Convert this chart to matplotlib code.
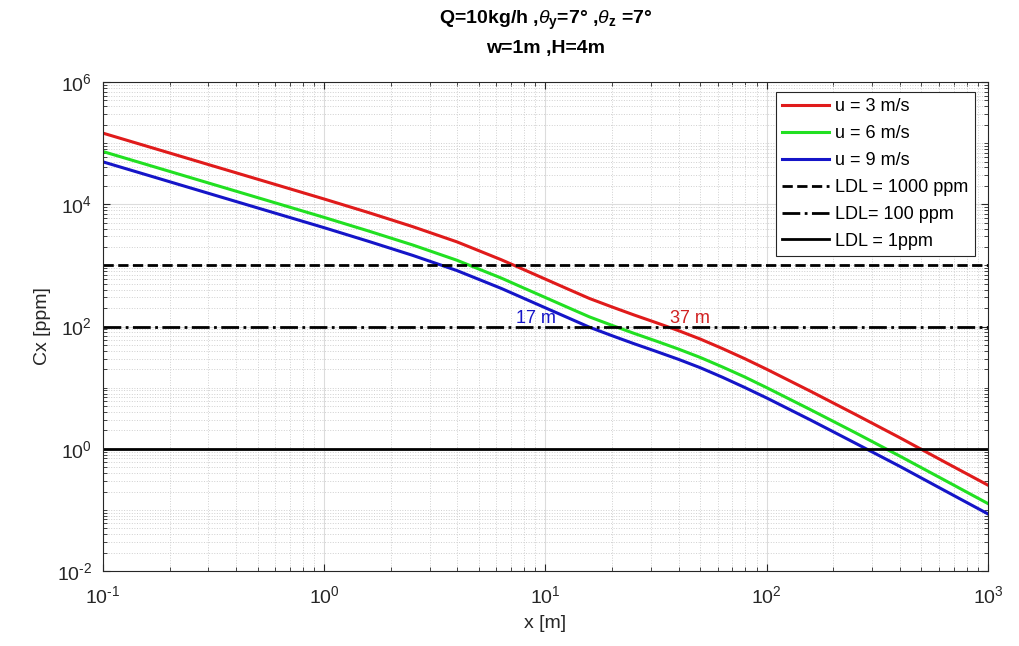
import numpy as np
import matplotlib
matplotlib.use("Agg")
import matplotlib.pyplot as plt
from matplotlib.ticker import LogLocator, NullFormatter, FuncFormatter

plt.rcParams['font.family'] = ['Liberation Sans', 'DejaVu Sans']
plt.rcParams['mathtext.fontset'] = 'custom'
plt.rcParams['mathtext.rm'] = 'Liberation Sans'
plt.rcParams['mathtext.it'] = 'Liberation Sans:italic'
plt.rcParams['mathtext.bf'] = 'Liberation Sans:bold'
plt.rcParams['axes.unicode_minus'] = False

# distance downwind [m]
x = [0.1, 0.316, 1, 1.585, 2.512, 3.98, 6.31, 7.94, 10, 12.6, 15.8, 20, 25.1,
     31.6, 39.8, 50.1, 63.1, 79.4, 100, 158, 251, 398, 631, 1000]

# concentration [ppm] for each wind speed
c_u3 = [146000, 42200, 12200, 7330, 4310, 2430, 1240, 861, 596, 412, 288, 209,
        155, 116, 86.1, 62.4, 43.6, 29.9, 20.0, 8.71, 3.67, 1.53, 0.62, 0.254]
c_u6 = [73000, 21100, 6100, 3660, 2160, 1215, 622, 430, 298, 206, 144, 104.5,
        77.5, 58, 43, 31.2, 21.8, 15, 10, 4.35, 1.84, 0.765, 0.312, 0.127]
c_u9 = [49500, 14300, 4140, 2480, 1460, 824, 421, 292, 202, 140, 97.6, 70.8,
        52.5, 39.3, 29.2, 21.2, 14.8, 10.1, 6.78, 2.95, 1.24, 0.52, 0.211, 0.086]

# detection limits [ppm]
ldl_values = [1000, 100, 1]
ldl_labels = ['LDL = 1000 ppm', 'LDL= 100 ppm', 'LDL = 1ppm']
ldl_styles = ['--', '-.', '-']

# distances where the 100 ppm limit is reached
x_100_u9 = 17
x_100_u3 = 37


def pow10(v, pos):
    e = int(round(np.log10(v)))
    s = f'\\text{{-}}{abs(e)}' if e < 0 else str(e)
    return f'$10^{{{s}}}$'


fig = plt.figure(figsize=(10.19, 6.46), dpi=100)
ax = fig.add_axes([0.101, 0.116, 0.8686, 0.757])

ax.plot(x, c_u3, color='#e01b1b', lw=2.2, label='u = 3 m/s')
ax.plot(x, c_u6, color='#22e022', lw=2.2, label='u = 6 m/s')
ax.plot(x, c_u9, color='#1515c8', lw=2.2, label='u = 9 m/s')
for val, lab, ls in zip(ldl_values, ldl_labels, ldl_styles):
    ax.axhline(val, color='black', ls=ls, lw=2, label=lab)

ax.text(x_100_u9 * 0.53, 137, f'{x_100_u9} m', color='#1515c8', fontsize=13,
        ha='center', va='center')
ax.text(x_100_u3 * 1.22, 137, f'{x_100_u3} m', color='#d02020', fontsize=13,
        ha='center', va='center')

ax.set_xscale('log')
ax.set_yscale('log')
ax.set_xlim(0.1, 1000)
ax.set_ylim(1e-2, 1e6)
ax.set_yticks([1e-2, 1e0, 1e2, 1e4, 1e6])
ax.xaxis.set_major_formatter(FuncFormatter(pow10))
ax.yaxis.set_major_formatter(FuncFormatter(pow10))
ax.xaxis.set_minor_locator(LogLocator(base=10, subs=np.arange(1, 10), numticks=20))
ax.yaxis.set_minor_locator(LogLocator(base=10, subs=np.arange(1, 10), numticks=20))
ax.xaxis.set_minor_formatter(NullFormatter())
ax.yaxis.set_minor_formatter(NullFormatter())

ax.tick_params(which='both', direction='in', top=True, right=True, colors='#262626',
               labelsize=14)
ax.tick_params(which='major', length=5)
ax.tick_params(which='minor', length=3)
ax.tick_params(axis='x', which='major', pad=10)
ax.tick_params(axis='y', which='major', pad=8)
for s in ax.spines.values():
    s.set_color('#262626')
ax.grid(which='major', color='#dcdcdc', lw=0.8, ls='-')
ax.grid(which='minor', color='#d0d0d0', lw=0.7, ls=':')
ax.set_axisbelow(True)

ax.set_xlabel('x [m]', fontsize=14, color='#262626', labelpad=6)
ax.set_ylabel('Cx [ppm]', fontsize=14, color='#262626')
ax.set_title('Q=10kg/h ,$\\theta_\\mathbf{y}$=7° ,$\\theta_\\mathbf{z}$ =7°\nw=1m ,H=4m',
             fontsize=14, fontweight='bold', pad=21, linespacing=1.6)

leg = ax.legend(loc='upper right', bbox_to_anchor=(0.985, 0.98), fontsize=13,
                fancybox=False, framealpha=1, edgecolor='#262626',
                handlelength=2.6, labelspacing=0.55, borderpad=0.35,
                handletextpad=0.35, borderaxespad=0)
leg.get_frame().set_linewidth(0.8)

fig.savefig('out.png', dpi=100)
